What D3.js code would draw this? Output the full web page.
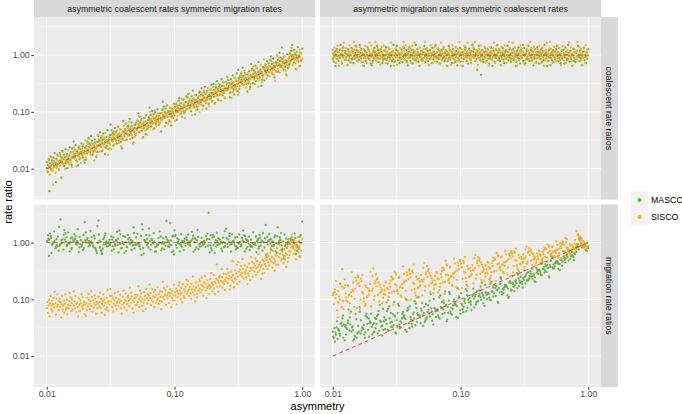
<!DOCTYPE html>
<meta charset="utf-8">
<style>
body { margin: 0; background: #fff; }
text { font-family: "Liberation Sans", Arial, Helvetica, sans-serif; }
.tick text { fill: #4d4d4d; font-size: 8.8px; }
.tick line { stroke: #333; }
</style>
<body>
<script src="https://d3js.org/d3.v7.min.js"></script>
<script>

// asymmetry of the simulations (x values, shared by every series, in simulation order)
var asymmetry = [
  0.0105,0.0118,0.0102,0.0111,0.0124,0.0108,0.0100,0.0114,0.0120,0.0103,0.0109,0.0122,0.0112,0.0106,0.0117,0.0101,0.0125,0.0110,0.0104,0.0119,0.0113,0.0107,0.0121,0.0115,
  0.0143,0.0127,0.0153,0.0135,0.0147,0.0131,0.0139,0.0157,0.0128,0.0150,0.0136,0.0144,0.0126,0.0154,0.0132,0.0140,0.0151,0.0130,0.0145,0.0137,0.0156,0.0133,0.0141,0.0148,
  0.0173,0.0196,0.0165,0.0183,0.0158,0.0178,0.0191,0.0168,0.0187,0.0162,0.0176,0.0198,0.0170,0.0181,0.0160,0.0192,0.0166,0.0175,0.0189,0.0163,0.0180,0.0194,0.0171,0.0185,
  0.0237,0.0212,0.0222,0.0202,0.0244,0.0228,0.0206,0.0218,0.0249,0.0233,0.0210,0.0224,0.0242,0.0200,0.0216,0.0235,0.0204,0.0247,0.0220,0.0231,0.0214,0.0240,0.0208,0.0226,
  0.0264,0.0296,0.0256,0.0279,0.0310,0.0271,0.0251,0.0287,0.0302,0.0259,0.0274,0.0307,0.0282,0.0266,0.0293,0.0254,0.0313,0.0277,0.0261,0.0299,0.0285,0.0269,0.0304,0.0290,
  0.0358,0.0319,0.0383,0.0338,0.0369,0.0329,0.0348,0.0394,0.0322,0.0376,0.0341,0.0362,0.0316,0.0387,0.0332,0.0352,0.0380,0.0325,0.0365,0.0345,0.0391,0.0335,0.0355,0.0372,
  0.0434,0.0492,0.0414,0.0460,0.0398,0.0447,0.0478,0.0422,0.0469,0.0406,0.0443,0.0496,0.0426,0.0455,0.0402,0.0482,0.0418,0.0438,0.0473,0.0410,0.0451,0.0487,0.0430,0.0464,
  0.0596,0.0531,0.0557,0.0506,0.0613,0.0573,0.0516,0.0546,0.0625,0.0584,0.0526,0.0562,0.0607,0.0501,0.0541,0.0590,0.0511,0.0619,0.0552,0.0579,0.0536,0.0601,0.0521,0.0568,
  0.0662,0.0743,0.0643,0.0701,0.0779,0.0681,0.0631,0.0722,0.0757,0.0649,0.0688,0.0772,0.0708,0.0668,0.0736,0.0637,0.0787,0.0695,0.0656,0.0750,0.0715,0.0675,0.0765,0.0729,
  0.0900,0.0802,0.0963,0.0850,0.0926,0.0825,0.0875,0.0991,0.0810,0.0944,0.0858,0.0909,0.0794,0.0972,0.0833,0.0883,0.0954,0.0817,0.0917,0.0866,0.0982,0.0841,0.0891,0.0935,
  0.109,0.124,0.104,0.115,0.100,0.112,0.120,0.106,0.118,0.102,0.111,0.125,0.107,0.114,0.101,0.121,0.105,0.110,0.119,0.103,0.113,0.122,0.108,0.117,
  0.150,0.133,0.140,0.127,0.154,0.144,0.130,0.137,0.157,0.147,0.132,0.141,0.153,0.126,0.136,0.148,0.128,0.156,0.139,0.145,0.135,0.151,0.131,0.143,
  0.166,0.187,0.162,0.176,0.196,0.171,0.158,0.181,0.191,0.163,0.173,0.194,0.178,0.168,0.185,0.160,0.198,0.175,0.165,0.189,0.180,0.170,0.192,0.183,
  0.226,0.202,0.242,0.214,0.233,0.208,0.220,0.249,0.204,0.237,0.216,0.228,0.200,0.244,0.210,0.222,0.240,0.206,0.231,0.218,0.247,0.212,0.224,0.235,
  0.274,0.310,0.261,0.290,0.251,0.282,0.302,0.266,0.296,0.256,0.279,0.313,0.269,0.287,0.254,0.304,0.264,0.277,0.299,0.259,0.285,0.307,0.271,0.293,
  0.376,0.335,0.352,0.319,0.387,0.362,0.325,0.345,0.394,0.369,0.332,0.355,0.383,0.316,0.341,0.372,0.322,0.391,0.348,0.365,0.338,0.380,0.329,0.358,
  0.418,0.469,0.406,0.443,0.492,0.430,0.398,0.455,0.478,0.410,0.434,0.487,0.447,0.422,0.464,0.402,0.496,0.438,0.414,0.473,0.451,0.426,0.482,0.460,
  0.568,0.506,0.607,0.536,0.584,0.521,0.552,0.625,0.511,0.596,0.541,0.573,0.501,0.613,0.526,0.557,0.601,0.516,0.579,0.546,0.619,0.531,0.562,0.590,
  0.688,0.779,0.656,0.729,0.631,0.708,0.757,0.668,0.743,0.643,0.701,0.787,0.675,0.722,0.637,0.765,0.662,0.695,0.750,0.649,0.715,0.772,0.681,0.736,
  0.944,0.841,0.883,0.802,0.972,0.909,0.817,0.866,1.000,0.926,0.833,0.891,0.963,0.794,0.858,0.935,0.810,0.982,0.875,0.917,0.850,0.954,0.825,0.900
];

// coalescent rate ratios, asymmetric coalescent rates
var cRateCoalAsymMasco = [
  0.0040,0.0058,0.0087,0.0093,0.0097,0.0099,0.0102,0.0106,0.0110,0.0113,0.0116,0.0120,0.0123,0.0124,0.0127,0.0130,0.0134,0.0139,0.0143,0.0149,0.0156,0.0164,0.0174,0.0188,
  0.0134,0.0138,0.0142,0.0147,0.0151,0.0155,0.0157,0.0159,0.0164,0.0169,0.0175,0.0180,0.0188,0.0196,0.0206,0.0219,0.0237,0.0068,0.0102,0.0110,0.0117,0.0123,0.0124,0.0128,
  0.0201,0.0206,0.0214,0.0221,0.0228,0.0237,0.0247,0.0260,0.0276,0.0299,0.0114,0.0128,0.0139,0.0148,0.0155,0.0157,0.0162,0.0169,0.0174,0.0180,0.0185,0.0190,0.0196,0.0198,
  0.0327,0.0347,0.0376,0.0143,0.0161,0.0175,0.0186,0.0195,0.0197,0.0204,0.0213,0.0220,0.0226,0.0233,0.0240,0.0246,0.0249,0.0253,0.0260,0.0269,0.0278,0.0287,0.0298,0.0311,
  0.0245,0.0248,0.0257,0.0268,0.0276,0.0285,0.0293,0.0302,0.0310,0.0313,0.0319,0.0327,0.0338,0.0350,0.0361,0.0375,0.0392,0.0412,0.0437,0.0474,0.0180,0.0203,0.0220,0.0234,
  0.0380,0.0391,0.0394,0.0401,0.0412,0.0426,0.0440,0.0454,0.0472,0.0493,0.0518,0.0550,0.0596,0.0227,0.0256,0.0277,0.0295,0.0309,0.0312,0.0323,0.0337,0.0348,0.0359,0.0369,
  0.0572,0.0595,0.0621,0.0653,0.0693,0.0751,0.0286,0.0322,0.0349,0.0371,0.0389,0.0393,0.0407,0.0425,0.0438,0.0451,0.0465,0.0478,0.0492,0.0496,0.0505,0.0519,0.0536,0.0554,
  0.0405,0.0438,0.0466,0.0489,0.0495,0.0511,0.0534,0.0551,0.0568,0.0584,0.0601,0.0618,0.0624,0.0635,0.0652,0.0674,0.0697,0.0719,0.0747,0.0781,0.0821,0.0871,0.0944,0.0360,
  0.0694,0.0715,0.0736,0.0758,0.0779,0.0786,0.0800,0.0821,0.0850,0.0878,0.0906,0.0942,0.0984,0.103,0.110,0.119,0.0453,0.0510,0.0552,0.0588,0.0616,0.0623,0.0644,0.0673,
  0.103,0.107,0.110,0.114,0.119,0.124,0.130,0.138,0.150,0.0570,0.0642,0.0695,0.0740,0.0775,0.0784,0.0811,0.0846,0.0873,0.0900,0.0927,0.0953,0.0980,0.0989,0.101,
  0.174,0.188,0.072,0.081,0.087,0.093,0.097,0.099,0.102,0.106,0.110,0.113,0.116,0.120,0.123,0.124,0.127,0.130,0.134,0.139,0.143,0.149,0.156,0.164,
  0.124,0.128,0.134,0.138,0.142,0.147,0.151,0.155,0.157,0.159,0.164,0.169,0.175,0.180,0.188,0.196,0.206,0.219,0.237,0.090,0.102,0.110,0.117,0.123,
  0.196,0.198,0.201,0.206,0.214,0.221,0.228,0.237,0.247,0.260,0.276,0.299,0.114,0.128,0.139,0.148,0.155,0.157,0.162,0.169,0.174,0.180,0.185,0.190,
  0.298,0.311,0.327,0.347,0.376,0.143,0.161,0.175,0.186,0.195,0.197,0.204,0.213,0.220,0.226,0.233,0.240,0.246,0.249,0.253,0.260,0.269,0.278,0.287,
  0.220,0.234,0.245,0.248,0.257,0.268,0.276,0.285,0.293,0.302,0.310,0.313,0.319,0.327,0.338,0.350,0.361,0.375,0.392,0.412,0.437,0.474,0.180,0.203,
  0.359,0.369,0.380,0.391,0.394,0.401,0.412,0.426,0.440,0.454,0.472,0.493,0.518,0.550,0.596,0.227,0.256,0.277,0.295,0.309,0.312,0.323,0.337,0.348,
  0.536,0.554,0.572,0.595,0.621,0.653,0.693,0.751,0.286,0.322,0.349,0.371,0.389,0.393,0.407,0.425,0.438,0.451,0.465,0.478,0.492,0.496,0.505,0.519,
  0.944,0.360,0.405,0.438,0.466,0.489,0.495,0.511,0.534,0.551,0.568,0.584,0.601,0.618,0.624,0.635,0.652,0.674,0.697,0.719,0.747,0.781,0.821,0.871,
  0.644,0.673,0.694,0.715,0.736,0.758,0.779,0.786,0.800,0.821,0.850,0.878,0.906,0.942,0.984,1.03,1.10,1.36,0.453,0.510,0.552,0.588,0.616,0.623,
  0.989,1.01,1.03,1.07,1.10,1.14,1.19,1.24,1.30,1.38,1.50,0.570,0.642,0.695,0.740,0.775,0.784,0.811,0.846,0.873,0.900,0.927,0.953,0.980
];
var cRateCoalAsymSisco = [
  0.0113,0.0115,0.0118,0.0121,0.0124,0.0128,0.0132,0.0137,0.0142,0.0149,0.0157,0.0168,0.0052,0.0078,0.0084,0.0090,0.0094,0.0097,0.0101,0.0103,0.0104,0.0106,0.0109,0.0111,
  0.0172,0.0179,0.0188,0.0197,0.0212,0.0070,0.0099,0.0106,0.0113,0.0118,0.0123,0.0127,0.0130,0.0131,0.0134,0.0137,0.0140,0.0142,0.0145,0.0148,0.0152,0.0157,0.0161,0.0166,
  0.0134,0.0142,0.0150,0.0155,0.0160,0.0164,0.0166,0.0169,0.0173,0.0176,0.0180,0.0183,0.0187,0.0192,0.0198,0.0203,0.0210,0.0217,0.0226,0.0237,0.0249,0.0267,0.0110,0.0125,
  0.0213,0.0217,0.0222,0.0226,0.0231,0.0235,0.0242,0.0249,0.0255,0.0264,0.0273,0.0284,0.0298,0.0314,0.0336,0.0139,0.0157,0.0168,0.0179,0.0188,0.0195,0.0202,0.0206,0.0208,
  0.0313,0.0321,0.0333,0.0344,0.0358,0.0375,0.0395,0.0423,0.0175,0.0197,0.0212,0.0226,0.0237,0.0245,0.0254,0.0259,0.0262,0.0268,0.0274,0.0279,0.0285,0.0290,0.0296,0.0305,
  0.0533,0.0220,0.0249,0.0266,0.0284,0.0298,0.0309,0.0320,0.0327,0.0330,0.0337,0.0344,0.0351,0.0359,0.0366,0.0373,0.0383,0.0394,0.0405,0.0419,0.0433,0.0451,0.0472,0.0497,
  0.0402,0.0411,0.0416,0.0425,0.0434,0.0443,0.0451,0.0460,0.0469,0.0483,0.0496,0.0510,0.0527,0.0545,0.0568,0.0595,0.0626,0.0671,0.0277,0.0313,0.0335,0.0358,0.0375,0.0389,
  0.0579,0.0590,0.0607,0.0624,0.0641,0.0663,0.0686,0.0714,0.0747,0.0787,0.0843,0.0348,0.0393,0.0422,0.0450,0.0472,0.0489,0.0506,0.0517,0.0523,0.0534,0.0545,0.0556,0.0568,
  0.0899,0.0942,0.0991,0.106,0.0439,0.0496,0.0531,0.0566,0.0595,0.0616,0.0637,0.0651,0.0658,0.0673,0.0687,0.0701,0.0715,0.0729,0.0743,0.0765,0.0786,0.0807,0.0835,0.0864,
  0.0713,0.0748,0.0775,0.0802,0.0820,0.0829,0.0846,0.0864,0.0882,0.0900,0.0918,0.0936,0.0962,0.0989,0.102,0.105,0.109,0.113,0.119,0.125,0.134,0.0552,0.0624,0.0668,
  0.109,0.111,0.113,0.115,0.118,0.121,0.124,0.128,0.132,0.137,0.142,0.149,0.157,0.168,0.069,0.078,0.084,0.090,0.094,0.097,0.101,0.103,0.104,0.106,
  0.161,0.166,0.172,0.179,0.188,0.197,0.212,0.087,0.099,0.106,0.113,0.118,0.123,0.127,0.130,0.131,0.134,0.137,0.140,0.142,0.145,0.148,0.152,0.157,
  0.110,0.125,0.134,0.142,0.150,0.155,0.160,0.164,0.166,0.169,0.173,0.176,0.180,0.183,0.187,0.192,0.198,0.203,0.210,0.217,0.226,0.237,0.249,0.267,
  0.206,0.208,0.213,0.217,0.222,0.226,0.231,0.235,0.242,0.249,0.255,0.264,0.273,0.284,0.298,0.314,0.336,0.139,0.157,0.168,0.179,0.188,0.195,0.202,
  0.296,0.305,0.313,0.321,0.333,0.344,0.358,0.375,0.395,0.423,0.175,0.197,0.212,0.226,0.237,0.245,0.254,0.259,0.262,0.268,0.274,0.279,0.285,0.290,
  0.472,0.497,0.533,0.220,0.249,0.266,0.284,0.298,0.309,0.320,0.327,0.330,0.337,0.344,0.351,0.359,0.366,0.373,0.383,0.394,0.405,0.419,0.433,0.451,
  0.375,0.389,0.402,0.411,0.416,0.425,0.434,0.443,0.451,0.460,0.469,0.483,0.496,0.510,0.527,0.545,0.568,0.595,0.626,0.671,0.277,0.313,0.335,0.358,
  0.556,0.568,0.579,0.590,0.607,0.624,0.641,0.663,0.686,0.714,0.747,0.787,0.843,0.348,0.393,0.422,0.450,0.472,0.489,0.506,0.517,0.523,0.534,0.545,
  0.835,0.864,0.899,0.942,0.991,1.06,0.439,0.496,0.531,0.566,0.595,0.616,0.637,0.651,0.658,0.673,0.687,0.701,0.715,0.729,0.743,0.765,0.786,0.807,
  0.624,0.668,0.713,0.748,0.775,0.802,0.820,0.829,0.846,0.864,0.882,0.900,0.918,0.936,0.962,0.989,1.02,1.05,1.09,1.13,1.19,1.25,1.34,0.552
];

// coalescent rate ratios, asymmetric migration rates
var cRateMigAsymMasco = [
  0.64,0.71,0.76,0.79,0.82,0.85,0.87,0.89,0.91,0.93,0.95,0.97,0.99,1.01,1.03,1.06,1.09,1.12,1.15,1.19,1.23,1.28,1.36,1.51,
  0.88,0.90,0.92,0.94,0.96,0.98,1.00,1.02,1.05,1.08,1.11,1.14,1.18,1.22,1.27,1.34,1.45,0.66,0.72,0.75,0.78,0.81,0.84,0.86,
  1.03,1.06,1.09,1.12,1.15,1.19,1.23,1.28,1.36,1.51,0.64,0.71,0.76,0.79,0.82,0.85,0.87,0.89,0.91,0.93,0.95,0.97,0.99,1.01,
  1.27,1.34,1.45,0.66,0.72,0.75,0.78,0.81,0.84,0.86,0.88,0.90,0.92,0.94,0.96,0.98,1.00,1.02,1.05,1.08,1.11,1.14,1.18,1.22,
  0.82,0.85,0.87,0.89,0.91,0.93,0.95,0.97,0.99,1.01,1.03,1.06,1.09,1.12,1.15,1.19,1.23,1.28,1.36,1.51,0.64,0.71,0.76,0.79,
  0.96,0.98,1.00,1.02,1.05,1.08,1.11,1.14,1.18,1.22,1.27,1.34,1.45,0.66,0.72,0.75,0.78,0.81,0.84,0.86,0.88,0.90,0.92,0.94,
  1.15,1.19,1.23,1.28,1.36,1.51,0.64,0.71,0.76,0.79,0.82,0.85,0.87,0.89,0.91,0.93,0.95,0.97,0.99,1.01,1.03,1.06,1.09,1.12,
  0.72,0.75,0.78,0.81,0.84,0.86,0.88,0.90,0.92,0.94,0.96,0.98,1.00,1.02,1.05,1.08,1.11,1.14,1.18,1.22,1.27,1.34,1.45,0.66,
  0.91,0.93,0.95,0.97,0.99,1.01,1.03,1.06,1.09,1.12,1.15,1.19,1.23,1.28,1.36,1.51,0.64,0.71,0.76,0.79,0.82,0.85,0.87,0.89,
  1.05,1.08,1.11,1.14,1.18,1.22,1.27,1.34,1.45,0.66,0.72,0.75,0.78,0.81,0.84,0.86,0.88,0.90,0.92,0.94,0.96,0.98,1.00,1.02,
  1.36,1.51,0.64,0.71,0.76,0.79,0.82,0.85,0.87,0.89,0.91,0.93,0.95,0.97,0.99,1.01,1.03,1.06,1.09,1.12,1.15,1.19,1.23,1.28,
  0.84,0.86,0.88,0.90,0.92,0.94,0.96,0.98,1.00,1.02,1.05,1.08,1.11,1.14,1.18,1.22,1.27,1.34,1.45,0.45,0.55,0.75,0.78,0.81,
  0.99,1.01,1.03,1.06,1.09,1.12,1.15,1.19,1.23,1.28,1.36,1.51,0.64,0.71,0.76,0.79,0.82,0.85,0.87,0.89,0.91,0.93,0.95,0.97,
  1.18,1.22,1.27,1.34,1.45,0.66,0.72,0.75,0.78,0.81,0.84,0.86,0.88,0.90,0.92,0.94,0.96,0.98,1.00,1.02,1.05,1.08,1.11,1.14,
  0.76,0.79,0.82,0.85,0.87,0.89,0.91,0.93,0.95,0.97,0.99,1.01,1.03,1.06,1.09,1.12,1.15,1.19,1.23,1.28,1.36,1.51,0.64,0.71,
  0.92,0.94,0.96,0.98,1.00,1.02,1.05,1.08,1.11,1.14,1.18,1.22,1.27,1.34,1.45,0.66,0.72,0.75,0.78,0.81,0.84,0.86,0.88,0.90,
  1.09,1.12,1.15,1.19,1.23,1.28,1.36,1.51,0.64,0.71,0.76,0.79,0.82,0.85,0.87,0.89,0.91,0.93,0.95,0.97,0.99,1.01,1.03,1.06,
  1.45,0.66,0.72,0.75,0.78,0.81,0.84,0.86,0.88,0.90,0.92,0.94,0.96,0.98,1.00,1.02,1.05,1.08,1.11,1.14,1.18,1.22,1.27,1.34,
  0.87,0.89,0.91,0.93,0.95,0.97,0.99,1.01,1.03,1.06,1.09,1.12,1.15,1.19,1.23,1.28,1.36,1.51,0.64,0.71,0.76,0.79,0.82,0.85,
  1.00,1.02,1.05,1.08,1.11,1.14,1.18,1.22,1.27,1.34,1.45,0.66,0.72,0.75,0.78,0.81,0.84,0.86,0.88,0.90,0.92,0.94,0.96,0.98
];
var cRateMigAsymSisco = [
  1.04,1.07,1.09,1.12,1.15,1.18,1.23,1.27,1.31,1.37,1.46,1.65,0.65,0.72,0.77,0.81,0.84,0.87,0.90,0.92,0.95,0.97,0.99,1.02,
  1.28,1.33,1.39,1.48,1.70,0.67,0.73,0.78,0.82,0.85,0.88,0.91,0.93,0.96,0.98,1.00,1.03,1.05,1.08,1.10,1.13,1.16,1.20,1.24,
  0.77,0.81,0.84,0.87,0.90,0.92,0.95,0.97,0.99,1.02,1.04,1.07,1.09,1.12,1.15,1.18,1.23,1.27,1.31,1.37,1.46,1.65,0.65,0.72,
  0.98,1.00,1.03,1.05,1.08,1.10,1.13,1.16,1.20,1.24,1.28,1.33,1.39,1.48,1.70,0.67,0.73,0.78,0.82,0.85,0.88,0.91,0.93,0.96,
  1.15,1.18,1.23,1.27,1.31,1.37,1.46,1.65,0.65,0.72,0.77,0.81,0.84,0.87,0.90,0.92,0.95,0.97,0.99,1.02,1.04,1.07,1.09,1.12,
  1.70,0.67,0.73,0.78,0.82,0.85,0.88,0.91,0.93,0.96,0.98,1.00,1.03,1.05,1.08,1.10,1.13,1.16,1.20,1.24,1.28,1.33,1.39,1.48,
  0.90,0.92,0.95,0.97,0.99,1.02,1.04,1.07,1.09,1.12,1.15,1.18,1.23,1.27,1.31,1.37,1.46,1.65,0.65,0.72,0.77,0.81,0.84,0.87,
  1.08,1.10,1.13,1.16,1.20,1.24,1.28,1.33,1.39,1.48,1.70,0.67,0.73,0.78,0.82,0.85,0.88,0.91,0.93,0.96,0.98,1.00,1.03,1.05,
  1.31,1.37,1.46,1.65,0.65,0.72,0.77,0.81,0.84,0.87,0.90,0.92,0.95,0.97,0.99,1.02,1.04,1.07,1.09,1.12,1.15,1.18,1.23,1.27,
  0.82,0.85,0.88,0.91,0.93,0.96,0.98,1.00,1.03,1.05,1.08,1.10,1.13,1.16,1.20,1.24,1.28,1.33,1.39,1.48,1.70,0.67,0.73,0.78,
  0.99,1.02,1.04,1.07,1.09,1.12,1.15,1.18,1.23,1.27,1.31,1.37,1.46,1.65,0.65,0.72,0.77,0.81,0.84,0.87,0.90,0.92,0.95,0.97,
  1.20,1.24,1.28,1.33,1.39,1.48,1.70,0.67,0.73,0.78,0.82,0.85,0.88,0.91,0.93,0.96,0.98,1.00,1.03,1.05,1.08,1.10,1.13,1.16,
  0.65,0.72,0.77,0.81,0.84,0.87,0.90,0.92,0.95,0.97,0.99,1.02,1.04,1.07,1.09,1.12,1.15,1.18,1.23,1.27,1.31,1.37,1.46,1.65,
  0.93,0.96,0.98,1.00,1.03,1.05,1.08,1.10,1.13,1.16,1.20,1.24,1.28,1.33,1.39,1.48,1.70,0.67,0.73,0.78,0.82,0.85,0.88,0.91,
  1.09,1.12,1.15,1.18,1.23,1.27,1.31,1.37,1.46,1.65,0.65,0.72,0.77,0.81,0.84,0.87,0.90,0.92,0.95,0.97,0.99,1.02,1.04,1.07,
  1.39,1.48,1.70,0.67,0.73,0.78,0.82,0.85,0.88,0.91,0.93,0.96,0.98,1.00,1.03,1.05,1.08,1.10,1.13,1.16,1.20,1.24,1.28,1.33,
  0.84,0.87,0.90,0.92,0.95,0.97,0.99,1.02,1.04,1.07,1.09,1.12,1.15,1.18,1.23,1.27,1.31,1.37,1.46,1.65,0.65,0.72,0.77,0.81,
  1.03,1.05,1.08,1.10,1.13,1.16,1.20,1.24,1.28,1.33,1.39,1.48,1.70,0.67,0.73,0.78,0.82,0.85,0.88,0.91,0.93,0.96,0.98,1.00,
  1.23,1.27,1.31,1.37,1.46,1.65,0.65,0.72,0.77,0.81,0.84,0.87,0.90,0.92,0.95,0.97,0.99,1.02,1.04,1.07,1.09,1.12,1.15,1.18,
  0.73,0.78,0.82,0.85,0.88,0.91,0.93,0.96,0.98,1.00,1.03,1.05,1.08,1.10,1.13,1.16,1.20,1.24,1.28,1.33,1.39,1.48,1.70,0.67
];

// migration rate ratios, asymmetric coalescent rates
var mRateCoalAsymMasco = [
  1.12,0.84,1.35,0.96,0.72,1.21,1.03,1.58,0.89,1.17,0.66,1.27,0.98,1.44,0.79,1.08,1.89,0.91,0.58,1.15,1.01,1.31,0.86,1.06,
  1.24,0.93,1.02,0.75,1.52,0.97,1.13,0.81,2.55,0.95,1.38,0.88,0.87,1.19,1.00,1.47,0.70,1.09,0.92,1.66,0.77,1.14,1.04,0.99,
  1.06,0.80,1.41,0.94,1.23,0.68,1.01,1.29,0.85,1.11,0.97,2.30,0.93,1.26,1.02,0.74,1.16,1.72,0.90,1.05,0.82,1.36,0.96,1.10,
  1.18,0.86,1.04,1.50,0.71,0.99,1.13,0.89,1.95,0.83,1.00,1.25,0.76,1.09,0.94,1.32,1.01,0.65,1.60,0.88,1.07,0.80,1.20,0.97,
  1.03,0.85,1.39,0.92,1.12,0.63,0.99,1.45,0.87,1.08,0.78,0.95,1.22,0.73,1.05,2.45,0.90,1.15,0.82,0.98,1.33,0.69,1.02,0.94,
  0.91,1.28,0.79,1.04,1.62,0.86,1.11,0.97,0.72,1.40,0.93,1.17,0.99,0.81,1.24,1.06,0.95,1.13,0.67,0.88,1.03,0.76,1.54,0.96,
  1.14,0.90,1.01,0.74,1.30,0.94,1.85,0.84,1.06,0.66,1.21,0.98,0.83,1.10,0.93,1.48,0.71,1.02,0.89,1.26,0.97,0.79,1.37,1.00,
  1.05,0.86,2.10,0.92,1.16,0.64,0.99,1.31,0.82,1.09,0.94,1.70,0.90,1.23,0.77,1.03,1.43,0.95,0.60,1.12,0.87,1.35,0.98,0.81,
  1.15,0.91,1.06,0.69,1.28,0.97,1.78,0.85,1.01,0.75,1.46,0.99,0.84,1.11,0.94,1.34,0.73,1.04,0.92,1.20,0.70,1.00,1.57,0.92,
  1.08,0.79,1.27,0.88,2.20,0.96,1.14,0.62,1.02,0.90,1.25,0.83,0.97,1.32,0.76,1.05,0.68,1.18,0.93,2.40,0.72,1.00,0.86,1.09,
  0.95,1.22,0.81,1.07,1.64,0.89,1.16,0.99,0.74,1.36,0.92,1.11,1.03,0.84,1.29,0.97,1.19,0.70,1.06,0.90,1.41,0.87,1.13,1.01,
  1.09,0.88,1.33,0.96,0.77,1.20,1.04,1.55,0.85,1.14,0.93,0.69,1.26,1.00,1.08,0.82,1.38,0.94,1.17,0.75,1.05,1.68,0.91,1.02,
  0.97,1.15,0.86,1.30,0.73,1.07,0.95,1.44,0.89,1.21,1.01,0.80,1.12,0.92,3.35,0.98,1.24,0.84,1.03,0.67,1.16,0.94,1.35,0.88,
  1.13,0.90,1.02,1.49,0.78,0.99,1.18,0.87,1.27,0.71,1.06,0.96,1.37,0.83,1.10,0.93,1.22,0.65,1.04,0.91,1.59,0.85,1.15,0.98,
  0.92,1.25,0.84,1.08,0.97,1.40,0.76,1.01,0.89,1.19,0.95,0.81,1.31,1.03,1.76,0.87,1.12,0.69,1.23,0.94,1.05,0.80,1.45,0.99,
  1.07,0.88,1.34,0.96,0.74,1.16,1.02,1.62,0.85,1.11,0.93,0.70,1.27,0.98,1.09,0.83,1.39,0.91,1.04,0.77,1.21,0.97,0.86,1.30,
  0.94,1.20,0.83,1.06,1.48,0.90,1.13,0.79,1.01,0.97,1.28,0.72,1.10,0.95,1.36,0.87,1.03,0.68,1.52,0.88,1.17,0.99,1.08,0.85,
  1.16,0.82,1.25,0.93,1.05,0.61,1.42,0.98,1.19,0.86,1.07,0.75,1.00,1.33,0.55,1.12,0.91,2.05,0.88,1.09,0.70,1.26,0.96,1.02,
  0.89,1.14,0.97,1.38,0.66,1.04,0.81,1.23,0.92,1.85,0.78,1.01,1.11,0.58,1.29,0.94,1.07,0.74,1.18,0.96,0.52,1.03,1.47,0.87,
  1.05,0.84,1.21,0.93,1.36,0.71,1.08,0.97,2.35,0.86,1.12,0.63,1.27,0.95,1.02,0.77,1.16,0.99,1.44,0.82,1.10,0.57,1.24,0.91
];
var mRateCoalAsymSisco = [
  0.050,0.054,0.058,0.062,0.065,0.067,0.070,0.072,0.074,0.077,0.078,0.080,0.082,0.084,0.086,0.089,0.092,0.095,0.098,0.102,0.107,0.114,0.122,0.136,
  0.072,0.074,0.077,0.078,0.080,0.082,0.084,0.086,0.089,0.092,0.095,0.098,0.102,0.107,0.114,0.122,0.130,0.048,0.054,0.058,0.062,0.065,0.067,0.070,
  0.087,0.090,0.093,0.096,0.100,0.104,0.109,0.115,0.123,0.138,0.050,0.055,0.059,0.062,0.066,0.068,0.070,0.073,0.075,0.078,0.079,0.081,0.083,0.085,
  0.118,0.126,0.141,0.051,0.056,0.061,0.064,0.067,0.070,0.072,0.075,0.077,0.080,0.081,0.083,0.085,0.087,0.090,0.092,0.095,0.099,0.102,0.106,0.111,
  0.070,0.072,0.075,0.077,0.080,0.083,0.084,0.086,0.088,0.090,0.093,0.095,0.099,0.102,0.106,0.110,0.115,0.122,0.131,0.146,0.053,0.058,0.063,0.066,
  0.090,0.092,0.095,0.097,0.100,0.104,0.107,0.111,0.115,0.121,0.128,0.137,0.153,0.056,0.061,0.066,0.069,0.073,0.076,0.078,0.081,0.084,0.086,0.088,
  0.116,0.120,0.126,0.133,0.143,0.160,0.058,0.064,0.069,0.072,0.076,0.079,0.082,0.085,0.087,0.090,0.092,0.094,0.096,0.099,0.102,0.104,0.108,0.112,
  0.068,0.073,0.077,0.081,0.084,0.087,0.090,0.093,0.096,0.098,0.100,0.102,0.105,0.108,0.111,0.115,0.119,0.123,0.128,0.134,0.142,0.152,0.170,0.062,
  0.100,0.104,0.106,0.108,0.110,0.113,0.117,0.120,0.124,0.129,0.133,0.138,0.145,0.153,0.164,0.184,0.067,0.073,0.079,0.083,0.087,0.091,0.094,0.097,
  0.131,0.136,0.140,0.145,0.151,0.158,0.168,0.179,0.201,0.073,0.080,0.086,0.091,0.096,0.099,0.103,0.106,0.110,0.113,0.116,0.118,0.120,0.124,0.127,
  0.198,0.221,0.081,0.088,0.095,0.100,0.105,0.109,0.113,0.117,0.121,0.125,0.127,0.130,0.133,0.137,0.140,0.144,0.150,0.155,0.160,0.166,0.174,0.185,
  0.124,0.129,0.133,0.138,0.142,0.145,0.148,0.151,0.155,0.160,0.164,0.170,0.176,0.182,0.189,0.198,0.210,0.225,0.252,0.092,0.101,0.108,0.114,0.120,
  0.173,0.179,0.184,0.189,0.196,0.202,0.209,0.218,0.228,0.241,0.258,0.289,0.105,0.116,0.124,0.131,0.138,0.143,0.148,0.153,0.158,0.163,0.167,0.170,
  0.256,0.268,0.284,0.410,0.340,0.124,0.136,0.146,0.154,0.162,0.168,0.174,0.180,0.186,0.192,0.196,0.200,0.204,0.210,0.216,0.222,0.230,0.238,0.246,
  0.175,0.185,0.194,0.202,0.209,0.216,0.223,0.230,0.235,0.240,0.245,0.252,0.259,0.266,0.276,0.286,0.295,0.307,0.322,0.341,0.470,0.408,0.149,0.163,
  0.288,0.294,0.300,0.306,0.315,0.324,0.333,0.345,0.357,0.369,0.384,0.402,0.426,0.456,0.510,0.186,0.204,0.219,0.231,0.243,0.252,0.261,0.270,0.279,
  0.426,0.440,0.455,0.474,0.496,0.525,0.562,0.629,0.229,0.252,0.270,0.285,0.300,0.311,0.322,0.333,0.344,0.355,0.363,0.370,0.377,0.389,0.400,0.411,
  0.799,0.291,0.320,0.343,0.362,0.381,0.395,0.409,0.423,0.437,0.451,0.461,0.470,0.479,0.494,0.508,0.522,0.541,0.559,0.578,0.602,0.630,0.667,0.714,
  0.522,0.540,0.558,0.576,0.588,0.600,0.612,0.630,0.648,0.666,0.690,0.714,0.738,0.768,0.804,0.852,0.912,1.02,0.372,0.408,0.438,0.462,0.486,0.504,
  0.861,0.886,0.910,0.943,0.976,1.01,1.05,1.10,1.16,1.25,1.39,0.508,0.558,0.599,0.631,0.664,0.689,0.713,0.738,0.763,0.787,0.804,0.820,0.836
];

// migration rate ratios, asymmetric migration rates
var mRateMigAsymMasco = [
  0.026,0.034,0.021,0.030,0.019,0.041,0.027,0.023,0.052,0.031,0.020,0.036,0.028,0.024,0.039,0.022,0.033,0.029,0.018,0.046,0.025,0.032,0.021,0.037,
  0.033,0.024,0.045,0.028,0.020,0.038,0.061,0.026,0.031,0.022,0.048,0.029,0.035,0.021,0.042,0.027,0.055,0.030,0.019,0.036,0.025,0.066,0.032,0.023,
  0.030,0.041,0.025,0.056,0.034,0.021,0.046,0.028,0.037,0.072,0.024,0.039,0.032,0.051,0.027,0.022,0.043,0.035,0.029,0.060,0.026,0.038,0.031,0.048,
  0.040,0.027,0.051,0.033,0.023,0.062,0.036,0.045,0.029,0.080,0.038,0.025,0.034,0.056,0.031,0.042,0.024,0.068,0.037,0.028,0.047,0.033,0.026,0.054,
  0.037,0.055,0.030,0.046,0.026,0.068,0.041,0.033,0.089,0.043,0.028,0.050,0.039,0.062,0.032,0.048,0.025,0.075,0.044,0.035,0.058,0.029,0.052,0.040,
  0.049,0.034,0.063,0.041,0.029,0.077,0.046,0.038,0.058,0.099,0.032,0.052,0.043,0.070,0.036,0.055,0.027,0.083,0.047,0.039,0.066,0.031,0.060,0.045,
  0.046,0.068,0.037,0.057,0.031,0.084,0.052,0.042,0.110,0.049,0.035,0.063,0.055,0.040,0.075,0.048,0.033,0.092,0.051,0.044,0.071,0.038,0.059,0.053,
  0.061,0.043,0.079,0.052,0.036,0.095,0.058,0.048,0.071,0.124,0.040,0.066,0.055,0.086,0.046,0.069,0.034,0.102,0.060,0.050,0.082,0.042,0.074,0.056,
  0.063,0.086,0.049,0.073,0.041,0.108,0.068,0.055,0.138,0.064,0.046,0.080,0.070,0.052,0.095,0.061,0.044,0.117,0.066,0.058,0.090,0.048,0.077,0.067,
  0.082,0.058,0.104,0.071,0.049,0.125,0.078,0.064,0.095,0.157,0.054,0.088,0.074,0.113,0.061,0.091,0.047,0.134,0.080,0.067,0.108,0.056,0.099,0.076,
  0.086,0.115,0.067,0.098,0.056,0.143,0.092,0.074,0.105,0.083,0.062,0.121,0.094,0.071,0.128,0.081,0.059,0.152,0.089,0.078,0.118,0.065,0.101,0.088,
  0.117,0.088,0.144,0.103,0.076,0.168,0.112,0.094,0.131,0.197,0.081,0.124,0.107,0.155,0.091,0.128,0.072,0.180,0.115,0.098,0.139,0.085,0.121,0.110,
  0.124,0.158,0.101,0.139,0.090,0.189,0.133,0.112,0.171,0.128,0.096,0.147,0.136,0.107,0.176,0.119,0.086,0.205,0.130,0.115,0.162,0.098,0.144,0.127,
  0.168,0.133,0.199,0.153,0.117,0.230,0.162,0.142,0.185,0.106,0.127,0.176,0.158,0.210,0.136,0.180,0.111,0.245,0.165,0.148,0.192,0.122,0.173,0.155,
  0.193,0.238,0.165,0.213,0.149,0.272,0.204,0.178,0.251,0.199,0.158,0.222,0.208,0.171,0.260,0.186,0.140,0.290,0.201,0.183,0.235,0.162,0.218,0.196,
  0.271,0.222,0.311,0.249,0.203,0.346,0.263,0.235,0.292,0.257,0.212,0.283,0.244,0.325,0.218,0.276,0.190,0.360,0.259,0.230,0.300,0.208,0.287,0.252,
  0.319,0.384,0.278,0.346,0.253,0.421,0.336,0.297,0.402,0.327,0.265,0.360,0.340,0.290,0.412,0.313,0.242,0.445,0.330,0.302,0.375,0.270,0.355,0.322,
  0.447,0.372,0.502,0.412,0.341,0.545,0.433,0.389,0.478,0.421,0.355,0.465,0.406,0.520,0.366,0.451,0.330,0.570,0.428,0.382,0.490,0.350,0.472,0.415,
  0.562,0.658,0.497,0.603,0.461,0.712,0.589,0.527,0.684,0.574,0.480,0.630,0.596,0.515,0.700,0.555,0.445,0.750,0.580,0.535,0.645,0.490,0.620,0.568,
  0.879,0.760,0.962,0.826,0.712,1.05,0.864,1.21,0.798,0.911,1.38,0.841,0.930,0.780,1.10,0.852,0.690,0.990,0.890,0.815,1.15,0.745,0.945,0.870
];
var mRateMigAsymSisco = [
  0.105,0.168,0.082,0.141,0.225,0.064,0.118,0.192,0.094,0.136,0.048,0.157,0.112,0.210,0.073,0.128,0.178,0.088,0.150,0.340,0.099,0.122,0.068,0.185,
  0.149,0.096,0.213,0.121,0.074,0.178,0.132,0.262,0.108,0.155,0.085,0.198,0.126,0.070,0.170,0.113,0.240,0.091,0.140,0.058,0.186,0.117,0.300,0.102,
  0.128,0.187,0.099,0.163,0.245,0.077,0.146,0.210,0.113,0.171,0.091,0.305,0.135,0.082,0.195,0.121,0.230,0.104,0.157,0.066,0.176,0.140,0.268,0.109,
  0.162,0.115,0.224,0.141,0.086,0.199,0.155,0.278,0.124,0.183,0.098,0.236,0.148,0.075,0.208,0.131,0.257,0.106,0.170,0.092,0.190,0.138,0.350,0.119,
  0.158,0.226,0.121,0.192,0.290,0.097,0.175,0.250,0.137,0.205,0.110,0.183,0.166,0.088,0.238,0.145,0.272,0.129,0.198,0.080,0.215,0.152,0.310,0.133,
  0.193,0.139,0.265,0.168,0.104,0.239,0.184,0.322,0.149,0.214,0.117,0.281,0.176,0.095,0.248,0.158,0.300,0.126,0.205,0.110,0.228,0.163,0.380,0.143,
  0.188,0.268,0.146,0.225,0.338,0.116,0.207,0.295,0.162,0.243,0.131,0.218,0.196,0.106,0.282,0.172,0.320,0.153,0.232,0.099,0.255,0.180,0.410,0.159,
  0.234,0.169,0.318,0.204,0.128,0.290,0.224,0.385,0.181,0.260,0.142,0.342,0.214,0.117,0.302,0.192,0.360,0.154,0.248,0.136,0.275,0.198,0.440,0.175,
  0.236,0.330,0.184,0.280,0.412,0.146,0.259,0.361,0.203,0.302,0.165,0.271,0.246,0.133,0.348,0.216,0.395,0.190,0.288,0.124,0.315,0.225,0.480,0.199,
  0.295,0.216,0.392,0.258,0.163,0.364,0.284,0.466,0.230,0.327,0.182,0.427,0.269,0.150,0.378,0.242,0.440,0.196,0.310,0.173,0.345,0.250,0.520,0.221,
  0.293,0.402,0.230,0.343,0.495,0.181,0.318,0.437,0.251,0.368,0.205,0.331,0.305,0.168,0.420,0.265,0.475,0.236,0.352,0.158,0.385,0.277,0.560,0.245,
  0.368,0.272,0.482,0.323,0.210,0.448,0.356,0.560,0.289,0.407,0.231,0.520,0.338,0.192,0.466,0.303,0.530,0.250,0.390,0.220,0.430,0.315,0.610,0.280,
  0.372,0.498,0.294,0.431,0.592,0.240,0.399,0.540,0.318,0.457,0.262,0.415,0.385,0.222,0.515,0.336,0.575,0.300,0.440,0.210,0.478,0.350,0.650,0.310,
  0.459,0.350,0.585,0.410,0.276,0.547,0.447,0.660,0.372,0.503,0.302,0.621,0.425,0.255,0.565,0.390,0.635,0.325,0.480,0.290,0.528,0.400,0.720,0.362,
  0.482,0.620,0.386,0.541,0.705,0.332,0.510,0.665,0.412,0.574,0.358,0.525,0.495,0.310,0.640,0.435,0.690,0.395,0.555,0.300,0.600,0.455,0.780,0.420,
  0.578,0.461,0.712,0.526,0.392,0.670,0.567,0.790,0.489,0.630,0.421,0.748,0.545,0.370,0.690,0.505,0.760,0.440,0.600,0.405,0.650,0.515,0.850,0.480,
  0.612,0.768,0.515,0.689,0.846,0.468,0.641,0.812,0.544,0.720,0.490,0.662,0.625,0.440,0.790,0.570,0.870,0.530,0.700,0.455,0.745,0.590,0.920,0.560,
  0.738,0.610,0.872,0.681,0.545,0.830,0.726,0.945,0.640,0.789,0.575,0.908,0.705,0.520,0.860,0.665,0.980,0.600,0.760,0.560,0.810,0.690,1.05,0.650,
  0.806,0.962,0.705,0.884,1.05,0.652,0.838,1.01,0.742,0.921,0.678,1.11,0.820,0.625,0.990,0.775,1.20,0.720,0.905,0.660,0.950,0.790,1.15,0.760,
  0.972,0.838,1.12,0.905,0.781,1.07,0.958,1.28,0.871,1.03,0.812,1.19,0.940,0.760,1.10,0.890,1.60,0.850,1.00,0.800,1.24,0.920,1.36,0.880
];

var colLabels = ["asymmetric coalescent rates symmetric migration rates",
                 "asymmetric migration rates symmetric coalescent rates"];
var rowLabels = ["coalescent rate ratios", "migration rate ratios"];
var methods = ["MASCO", "SISCO"];
var tickValues = [0.01, 0.1, 1];

var colors = {MASCO: "#6bad45", SISCO: "#f0b022"};

var panels = [
  {row: 0, col: 0, masco: cRateCoalAsymMasco, sisco: cRateCoalAsymSisco, diag: true},
  {row: 0, col: 1, masco: cRateMigAsymMasco,  sisco: cRateMigAsymSisco,  diag: false},
  {row: 1, col: 0, masco: mRateCoalAsymMasco, sisco: mRateCoalAsymSisco, diag: false},
  {row: 1, col: 1, masco: mRateMigAsymMasco,  sisco: mRateMigAsymSisco,  diag: true}
];

// layout (pixels)
var W = 682, H = 414;
var colX = [34, 320], panelW = 281;
var rowY = [17, 204.5], panelH = 182.5;
var stripH = 17;

var svg = d3.select("body").append("svg")
    .attr("width", W).attr("height", H);

// log scales with ggplot-like 5% expansion
function expandLog(ext) {
  var a = Math.log10(ext[0]), b = Math.log10(ext[1]), pad = (b - a) * 0.05;
  return [Math.pow(10, a - pad), Math.pow(10, b + pad)];
}
var allY = [].concat(cRateCoalAsymMasco, cRateCoalAsymSisco, cRateMigAsymMasco, cRateMigAsymSisco,
                     mRateCoalAsymMasco, mRateCoalAsymSisco, mRateMigAsymMasco, mRateMigAsymSisco);
var x = d3.scaleLog().domain(expandLog([0.01, 1])).range([0, panelW]);
var y = d3.scaleLog().domain(expandLog(d3.extent(allY))).range([panelH, 0]);

var fmt = d3.format(".2f");
var majorX = [0.01, 0.1, 1], minorX = [Math.pow(10, -1.5), Math.pow(10, -0.5)];
var majorY = [0.01, 0.1, 1], minorY = [Math.pow(10, -2.5), Math.pow(10, -1.5), Math.pow(10, -0.5), Math.pow(10, 0.5)];

panels.forEach(function(p) {
  var g = svg.append("g")
      .attr("transform", "translate(" + colX[p.col] + "," + rowY[p.row] + ")");

  g.append("rect").attr("width", panelW).attr("height", panelH).attr("fill", "#ebebeb");

  // grid
  g.selectAll(".minx").data(minorX).enter().append("line")
      .attr("x1", x).attr("x2", x).attr("y1", 0).attr("y2", panelH)
      .attr("stroke", "#fff").attr("stroke-width", 0.5);
  g.selectAll(".miny").data(minorY.filter(function(v) { return y(v) > 0 && y(v) < panelH; }))
      .enter().append("line")
      .attr("y1", y).attr("y2", y).attr("x1", 0).attr("x2", panelW)
      .attr("stroke", "#fff").attr("stroke-width", 0.5);
  g.selectAll(".majx").data(majorX).enter().append("line")
      .attr("x1", x).attr("x2", x).attr("y1", 0).attr("y2", panelH)
      .attr("stroke", "#fff").attr("stroke-width", 1);
  g.selectAll(".majy").data(majorY).enter().append("line")
      .attr("y1", y).attr("y2", y).attr("x1", 0).attr("x2", panelW)
      .attr("stroke", "#fff").attr("stroke-width", 1);

  // points
  [["MASCO", p.masco], ["SISCO", p.sisco]].forEach(function(s) {
    var pts = s[1].map(function(v, i) { return [asymmetry[i], v]; })
        .filter(function(d) { return d[0] !== undefined; });
    g.append("g").selectAll("circle")
      .data(pts).enter().append("circle")
      .attr("cx", function(d) { return x(d[0]); })
      .attr("cy", function(d) { return y(d[1]); })
      .attr("r", 1.15)
      .attr("fill", colors[s[0]]);
  });

  // expected ratio
  var refEnd = p.diag ? [0.01, 1] : [1, 1];
  g.append("line")
      .attr("x1", x(0.01)).attr("x2", x(1))
      .attr("y1", y(refEnd[0])).attr("y2", y(refEnd[1]))
      .attr("stroke", "#e3201b").attr("stroke-opacity", 0.8)
      .attr("stroke-width", 1).attr("stroke-dasharray", "4,3");
});

// top strips
colLabels.forEach(function(lab, c) {
  svg.append("rect").attr("x", colX[c]).attr("y", 0)
      .attr("width", panelW).attr("height", stripH).attr("fill", "#d9d9d9");
  svg.append("text").attr("x", colX[c] + panelW / 2).attr("y", stripH / 2)
      .attr("dy", "0.35em").attr("text-anchor", "middle")
      .attr("font-size", "8.8px").attr("fill", "#1a1a1a").text(lab);
});

// right strips
rowLabels.forEach(function(lab, r) {
  var sx = colX[1] + panelW;
  svg.append("rect").attr("x", sx).attr("y", rowY[r])
      .attr("width", stripH).attr("height", panelH).attr("fill", "#d9d9d9");
  svg.append("text")
      .attr("transform", "translate(" + (sx + stripH / 2) + "," + (rowY[r] + panelH / 2) + ") rotate(90)")
      .attr("dy", "0.35em").attr("text-anchor", "middle")
      .attr("font-size", "8.8px").attr("fill", "#1a1a1a").text(lab);
});

// y axes
rowY.forEach(function(ry) {
  svg.append("g").attr("transform", "translate(" + colX[0] + "," + ry + ")")
      .call(d3.axisLeft(y).tickValues(tickValues).tickFormat(fmt).tickSize(2.75).tickPadding(1.5))
      .call(function(a) { a.select(".domain").remove(); });
});

// x axes
colX.forEach(function(cx) {
  svg.append("g").attr("transform", "translate(" + cx + "," + (rowY[1] + panelH) + ")")
      .call(d3.axisBottom(x).tickValues(tickValues).tickFormat(fmt).tickSize(2.75).tickPadding(1.5))
      .call(function(a) { a.select(".domain").remove(); });
});

// axis titles
svg.append("text").attr("x", (colX[0] + colX[1] + panelW) / 2).attr("y", 410)
    .attr("text-anchor", "middle").attr("font-size", "11px").attr("fill", "#000")
    .text("asymmetry");
svg.append("text")
    .attr("transform", "translate(11.5," + ((rowY[0] + rowY[1] + panelH) / 2) + ") rotate(-90)")
    .attr("text-anchor", "middle").attr("font-size", "11px").attr("fill", "#000")
    .text("rate ratio");

// legend
var legend = svg.append("g").attr("transform", "translate(631,191.5)");
methods.forEach(function(m, i) {
  var lg = legend.append("g").attr("transform", "translate(0," + (i * 17) + ")");
  lg.append("rect").attr("width", 17).attr("height", 17).attr("fill", "#f2f2f2");
  lg.append("circle").attr("cx", 8.5).attr("cy", 8.5).attr("r", 2.1).attr("fill", colors[m]);
  lg.append("text").attr("x", 20).attr("y", 8.5).attr("dy", "0.35em")
      .attr("font-size", "8.8px").attr("fill", "#000").text(m);
});

</script>
</body>
